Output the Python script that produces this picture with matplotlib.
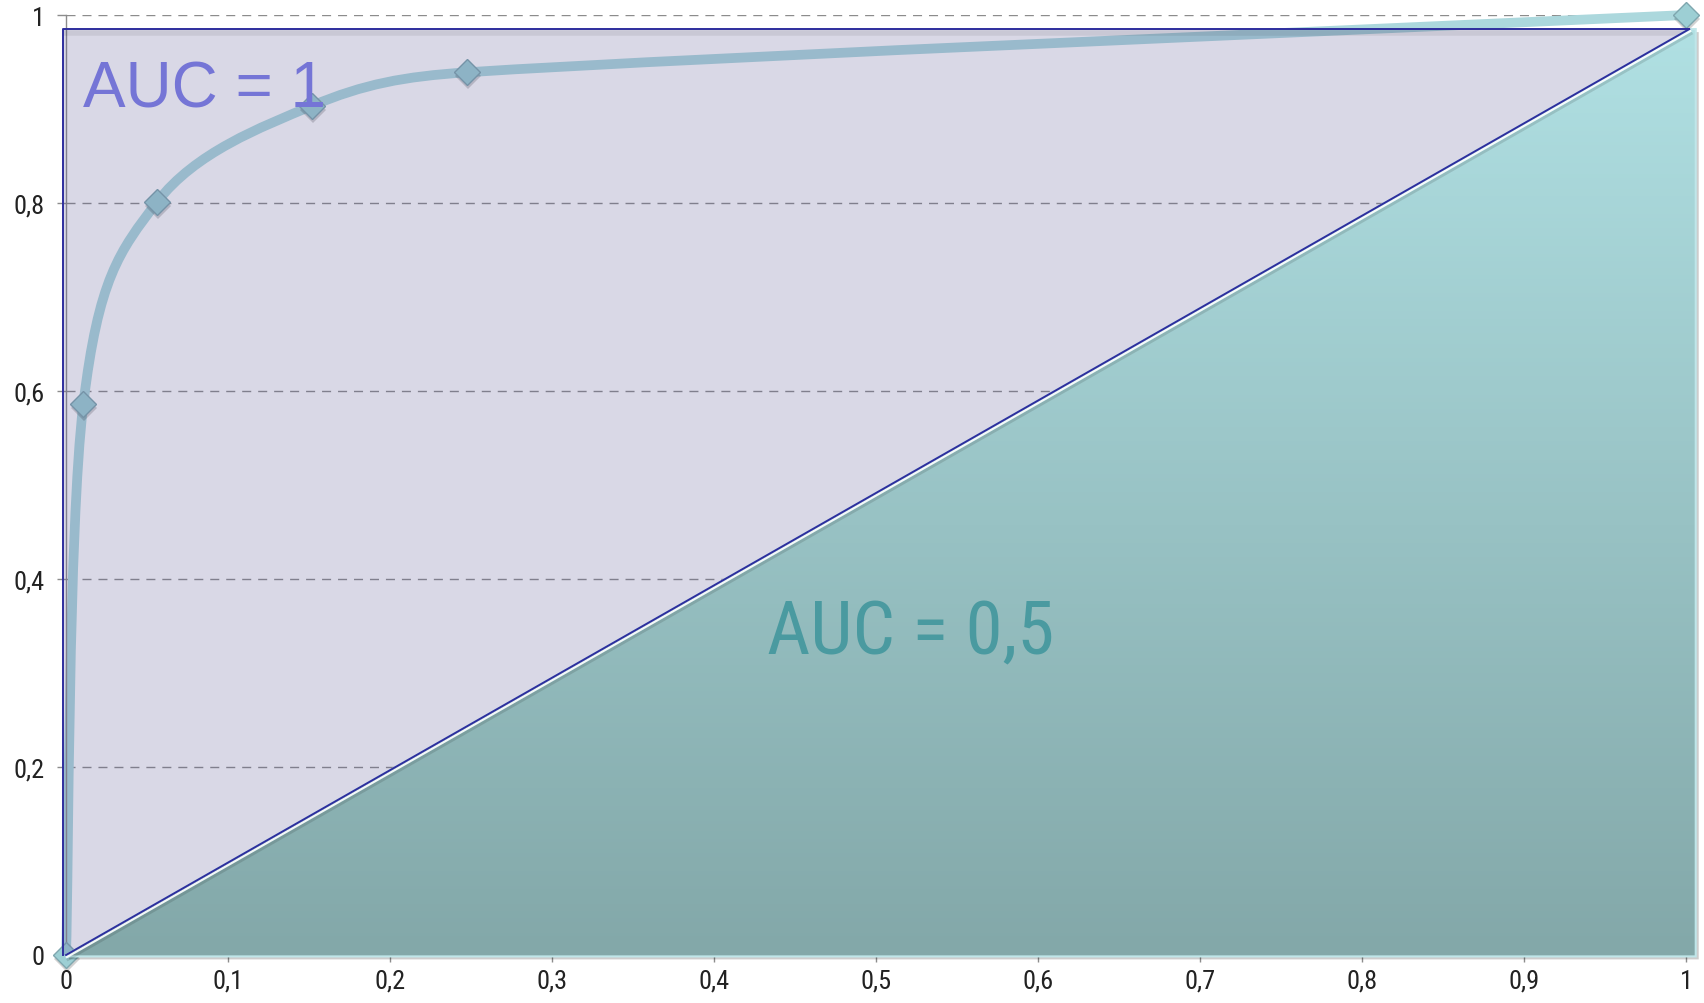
import numpy as np
import matplotlib
matplotlib.use("Agg")
import matplotlib.pyplot as plt
from matplotlib import font_manager
from matplotlib.colors import LinearSegmentedColormap
from matplotlib.font_manager import FontProperties
from matplotlib.patches import Polygon, Rectangle, PathPatch
from matplotlib.path import Path
from matplotlib.transforms import offset_copy, Bbox, TransformedBbox

# ROC curve points: false positive rate vs true positive rate
fpr = [0.0, 0.0107, 0.0562, 0.152, 0.2473, 1.0]
tpr = [0.0, 0.586, 0.801, 0.9035, 0.939, 1.0]

# perfect classifier box and chance diagonal
ideal_x = [-0.002, 1.002]
ideal_top = 0.985
chance_x = [0.0, 1.002]
chance_y = [0.0, 0.985]

xticks = [0, 0.1, 0.2, 0.3, 0.4, 0.5, 0.6, 0.7, 0.8, 0.9, 1]
yticks = [0, 0.2, 0.4, 0.6, 0.8, 1]

NAVY = "#2e2e9e"
GRID = "#8c8c8c"


def pick_narrow_font():
    fonts = font_manager.fontManager.ttflist
    names = {f.name for f in fonts}
    for name in ["Liberation Sans Narrow", "Roboto Condensed", "Open Sans Condensed"]:
        if name in names:
            return dict(family=name)
    for f in fonts:
        if f.name == "DejaVu Sans" and "ondensed" in f.fname:
            return dict(family="DejaVu Sans", stretch="condensed")
    return dict(family="Liberation Sans", stretch="condensed")


def smooth_path(xs, ys, scale):
    # cubic bezier through every point; tangents from the neighbours,
    # worked out in screen proportions and shortened so segments never loop
    sx, sy = scale
    pts = np.column_stack([np.asarray(xs) * sx, np.asarray(ys) * sy])
    n = len(pts)
    verts, codes = [pts[0]], [Path.MOVETO]
    for i in range(n - 1):
        p0 = pts[max(i - 1, 0)]
        p1, p2 = pts[i], pts[i + 1]
        p3 = pts[min(i + 2, n - 1)]
        seg = np.hypot(*(p2 - p1))
        t1 = (p2 - p0) / 6
        t2 = (p3 - p1) / 6
        for t in (t1, t2):
            m = np.hypot(*t)
            if m > 0.6 * seg:
                t *= 0.4 * seg / m
        verts += [p1 + t1, p2 - t2, p2]
        codes += [Path.CURVE4] * 3
    verts = np.array(verts) / [sx, sy]
    return Path(verts, codes)


def fmt(v):
    return f"{v:g}".replace(".", ",")


narrow = pick_narrow_font()
tick_fp = FontProperties(size=19, **narrow)
big_fp = FontProperties(size=54, **narrow)

fig = plt.figure(figsize=(17.04, 10.04), dpi=100)
ax = fig.add_axes([66 / 1704, 48 / 1004, 1620 / 1704, 940 / 1004])

# gridlines and axes
ax.set_axisbelow(True)
ax.yaxis.grid(True, color=GRID, lw=1.0, linestyle=(0, (6.5, 5)))
ax.xaxis.grid(False)
for side in ["top", "right"]:
    ax.spines[side].set_visible(False)
for side in ["left", "bottom"]:
    ax.spines[side].set_color(GRID)
    ax.spines[side].set_linewidth(1.0)

ax.set_xticks(xticks)
ax.set_xticklabels([fmt(v) for v in xticks], fontproperties=tick_fp, color="#222222")
ax.set_yticks(yticks)
ax.set_yticklabels([fmt(v) for v in yticks], fontproperties=tick_fp, color="#222222")
ax.tick_params(axis="x", length=5, width=1.0, color=GRID, pad=5)
ax.tick_params(axis="y", length=6.5, width=1.0, color=GRID, pad=9)

# ROC curve with diamond markers
curve = PathPatch(smooth_path(fpr, tpr, (ax.bbox.width, ax.bbox.height)), fill=False,
                  edgecolor="#acd8dd", lw=7, capstyle="round", joinstyle="round",
                  zorder=2, clip_on=False)
ax.add_patch(curve)
ax.plot(fpr, tpr, "D", ms=13.5, color="black", alpha=0.18, mew=0, zorder=2.6, clip_on=False,
        transform=offset_copy(ax.transData, fig=fig, x=1, y=-4, units="dots"))
ax.plot(fpr, tpr, "D", ms=13.5, mfc="#9dcfd4", mec="#7ea6ae", mew=1, zorder=3, clip_on=False)

# AUC = 1 area, semi-transparent lavender
ax.add_patch(Rectangle((ideal_x[0], 0), ideal_x[1] - ideal_x[0], ideal_top,
                       facecolor="#5b5794", alpha=0.23, lw=0, zorder=4, clip_on=False))
ax.plot(ideal_x, [ideal_top, ideal_top], color="black", alpha=0.07, lw=4, zorder=4.2,
        solid_capstyle="butt", clip_on=False,
        transform=offset_copy(ax.transData, fig=fig, x=0, y=-4, units="dots"))

# AUC = 0.5 triangle with vertical gradient
tri_verts = [(chance_x[0], chance_y[0]), (chance_x[1], chance_y[1]),
             (chance_x[1] + 0.004, chance_y[1]), (chance_x[1] + 0.004, -0.0015),
             (chance_x[0], -0.0015)]
ax.add_patch(Polygon(tri_verts, facecolor="black", alpha=0.2, lw=0, zorder=4.9, clip_on=False,
                     transform=offset_copy(ax.transData, fig=fig, x=3, y=-3, units="dots")))
tri = Polygon(tri_verts, fill=False, edgecolor="#bfe6e9", lw=1.5, zorder=5.2, clip_on=False)
ax.add_patch(tri)

teal = LinearSegmentedColormap.from_list("teal", ["#83a8a9", "#b0e0e3"])
grad = np.linspace(0, 1, 256).reshape(-1, 1)
im = ax.imshow(grad, extent=[0, chance_x[1] + 0.004, -0.0015, chance_y[1]], origin="lower",
               cmap=teal, aspect="auto", interpolation="bicubic", zorder=5)
im.set_clip_path(tri)
im.set_clip_box(TransformedBbox(Bbox([[-0.01, -0.01], [1.02, 1.01]]), ax.transData))

# bevel just under the diagonal
ax.plot(chance_x, chance_y, color="white", alpha=0.9, lw=1.5, zorder=5.4, clip_on=False,
        transform=offset_copy(ax.transData, fig=fig, x=1, y=-2, units="dots"))
ax.plot(chance_x, chance_y, color="black", alpha=0.12, lw=2, zorder=5.3, clip_on=False,
        transform=offset_copy(ax.transData, fig=fig, x=2, y=-4.5, units="dots"))

# outlines
ax.plot(chance_x, chance_y, color=NAVY, lw=1.4, zorder=6, clip_on=False)
ax.plot([ideal_x[0], ideal_x[0], ideal_x[1]], [0, ideal_top, ideal_top],
        color=NAVY, lw=1.4, zorder=6, clip_on=False)

ax.text(0.0105, 0.903, "AUC = 1", fontsize=46, family="Liberation Sans", color="#7575d6",
        ha="left", va="baseline", zorder=7)
ax.text(0.4327, 0.321, "AUC = 0,5", fontproperties=big_fp, color="#4a9aa0",
        ha="left", va="baseline", zorder=7)

ax.set_xlim(0, 1)
ax.set_ylim(0, 1)

fig.savefig("out.png", dpi=100)
